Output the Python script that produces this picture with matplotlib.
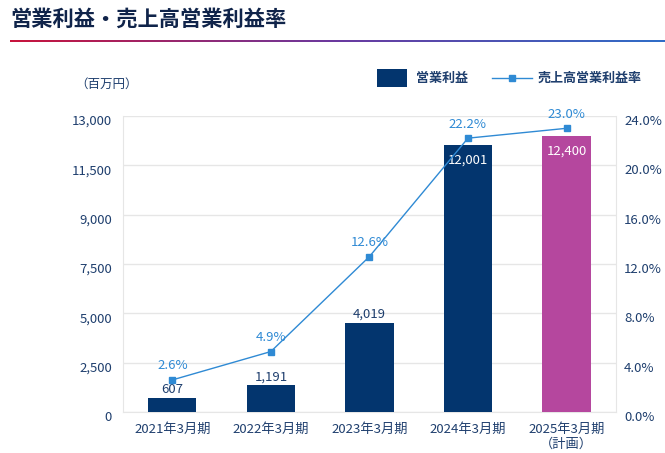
import matplotlib
matplotlib.use("Agg")
import matplotlib.pyplot as plt
import matplotlib.transforms as mtransforms
import numpy as np
from matplotlib.lines import Line2D
from matplotlib.patches import Rectangle

plt.rcParams['font.family'] = ['Noto Sans CJK JP', 'DejaVu Sans']

# data
categories = ["2021年3月期", "2022年3月期", "2023年3月期", "2024年3月期", "2025年3月期\n（計画）"]
profit = [607, 1191, 4019, 12001, 12400]
margin = [2.6, 4.9, 12.6, 22.2, 23.0]
left_labels = ["0", "2,500", "5,000", "7,500", "9,000", "11,500", "13,000"]
right_labels = ["0.0%", "4.0%", "8.0%", "12.0%", "16.0%", "20.0%", "24.0%"]

navy = "#03356e"
pink = "#b5479e"
blue = "#2f8ad4"
tick_col = "#1f3f6e"
grid_col = "#e6e6e6"

fig = plt.figure(figsize=(6.65, 4.53), dpi=100)

# title + gradient rule
fig.text(0.016, 0.958, "営業利益・売上高営業利益率", fontsize=15.3, fontweight='bold',
         color="#10244a", va='center', ha='left')
rule = fig.add_axes([0.015, 0.908, 0.985, 0.003])
grad = np.linspace(0, 1, 256).reshape(1, -1)
cmap = matplotlib.colors.LinearSegmentedColormap.from_list("g", ["#c8143c", "#6a3aa0", "#2f6ec8"])
rule.imshow(grad, aspect='auto', cmap=cmap)
rule.axis('off')

ax = fig.add_axes([0.185, 0.0905, 0.741, 0.6535])
x = np.arange(len(categories))
colors = [navy] * 4 + [pink]
bars = ax.bar(x, profit, width=0.49, color=colors, zorder=3)
ymax = 13300
ax.set_xlim(-0.5, len(categories) - 0.5)
ax.set_ylim(0, ymax)
ax.set_yticks(np.linspace(0, ymax, 7))
ax.set_yticklabels(left_labels)
ax.set_xticks(x)
ax.set_xticklabels(categories, linespacing=1.25)
ax.grid(axis='y', color=grid_col, linewidth=1, zorder=0)
for s in ax.spines.values():
    s.set_color(grid_col)
ax.spines['top'].set_visible(False)
ax.tick_params(axis='both', length=0, colors=tick_col, labelsize=9.5)
ax.tick_params(axis='y', pad=8)
ax.tick_params(axis='x', pad=7.5)

for b, v in zip(bars, profit):
    cx = b.get_x() + b.get_width() / 2
    if v > 10000:
        ax.annotate(f"{v:,}", (cx, v), xytext=(0, -6), textcoords='offset points',
                    ha='center', va='top', color='white', fontsize=9.5, zorder=5)
    else:
        ax.annotate(f"{v:,}", (cx, v), xytext=(0, 1.5), textcoords='offset points',
                    ha='center', va='bottom', color=tick_col, fontsize=9.5, zorder=5)

ax2 = ax.twinx()
ax2.set_ylim(0, 24)
ax2.set_yticks(np.linspace(0, 24, 7))
ax2.set_yticklabels(right_labels)
ax2.tick_params(axis='y', length=0, colors=tick_col, labelsize=9.5, pad=6)
for s in ax2.spines.values():
    s.set_visible(False)
ax2.plot(x, margin, color=blue, linewidth=1, marker='s', markersize=4.5, zorder=4)
for xi, m in zip(x, margin):
    ax2.annotate(f"{m:.1f}%", (xi, m), xytext=(0, 5.5), textcoords='offset points',
                 ha='center', va='bottom', color=blue, fontsize=9.5)

# tick labels sit a little below their gridlines
offset = mtransforms.ScaledTranslation(0, -4 / 100, fig.dpi_scale_trans)
for lab in ax.get_yticklabels() + ax2.get_yticklabels():
    lab.set_transform(lab.get_transform() + offset)

# unit label and legend
fig.text(0.113, 0.815, "（百万円）", fontsize=9, color=tick_col, ha='left', va='center')
fig.patches.append(Rectangle((0.5665, 0.8086), 0.0451, 0.039, transform=fig.transFigure,
                             facecolor=navy, edgecolor='none'))
fig.text(0.6256, 0.8285, "営業利益", fontsize=9.4, fontweight='bold', color=tick_col, va='center')
fig.lines.append(Line2D([0.74, 0.80], [0.8285, 0.8285], transform=fig.transFigure,
                        color=blue, linewidth=1))
fig.lines.append(Line2D([0.77], [0.8285], transform=fig.transFigure,
                        color=blue, marker='s', markersize=4.5, linestyle='none'))
fig.text(0.809, 0.8285, "売上高営業利益率", fontsize=9.4, fontweight='bold', color=tick_col, va='center')

fig.savefig("out.png", dpi=100)
